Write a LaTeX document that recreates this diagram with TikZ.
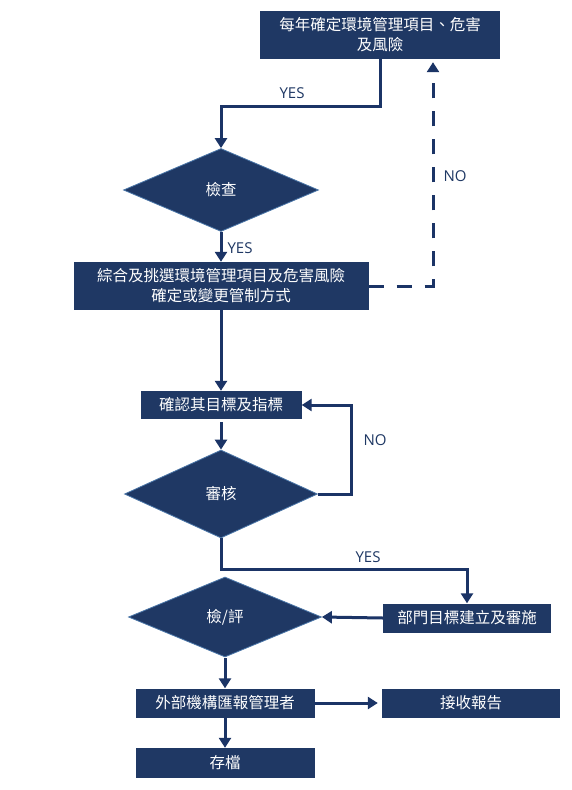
\documentclass[tikz,border=0pt]{standalone}
\usepackage{fontspec}
\setmainfont{Noto Sans CJK TC}
\newfontfamily\lblfont{Open Sans}
\usetikzlibrary{shapes.geometric,arrows.meta}
\definecolor{navy}{HTML}{1F3864}
\definecolor{edgeblue}{HTML}{4A76A8}
\definecolor{linec}{HTML}{1B3466}

\begin{document}
\begin{tikzpicture}[x=1pt,y=-1pt,
    box/.style={fill=navy,text=white,inner sep=0pt,align=center,font=\fontsize{15.5}{20}\selectfont},
    ask/.style={diamond,fill=navy,draw=edgeblue,line width=0.8pt,text=white,inner sep=0pt,font=\fontsize{15.5}{20}\selectfont},
    conn/.style={linec,line width=3pt,-{Triangle[width=12pt,length=10pt]}},
    lbl/.style={text=navy,font=\lblfont\fontsize{15}{18}\selectfont}]
    \fill[white] (0,0) rectangle (571,790);
    \useasboundingbox (0,0) rectangle (571,790);

    \node[box,minimum width=240pt,minimum height=48pt] (yearly) at (380,35) {每年確定環境管理項目、危害\\及風險};
    \node[ask,minimum width=195pt,minimum height=83pt] (check) at (221,190) {檢查};
    \node[box,minimum width=295pt,minimum height=48pt] (select) at (221,286) {綜合及挑選環境管理項目及危害風險\\確定或變更管制方式};
    \node[box,minimum width=161pt,minimum height=28pt] (target) at (221,405) {確認其目標及指標};
    \node[ask,minimum width=193pt,minimum height=88pt] (audit) at (221,494) {審核};
    \node[box,minimum width=168pt,minimum height=29pt] (dept) at (467,618) {部門目標建立及審施};
    \node[ask,minimum width=193pt,minimum height=80pt] (review) at (225,617) {檢/評};
    \node[box,minimum width=179pt,minimum height=29pt] (report) at (225,703) {外部機構匯報管理者};
    \node[box,minimum width=178pt,minimum height=29pt] (receive) at (471,703) {接收報告};
    \node[box,minimum width=179pt,minimum height=30pt] (archive) at (225,763) {存檔};

    \node[lbl] (yes1) at (292,93) {YES};
    \node[lbl,anchor=west] (yes2) at (224,248) {YES};
    \node[lbl] (no1) at (455,176) {NO};
    \node[lbl] (no2) at (375,440) {NO};
    \node[lbl] (yes3) at (368,557) {YES};

    \draw[conn] (yearly.south) -- ++(0,47) -| (check.north);
    \draw[conn] (check.south) -- (select.north);
    \draw[conn,dash pattern=on 15pt off 13pt,shorten >=3pt] (select.east) -| ([xshift=53pt]yearly.south);
    \draw[conn] (select.south) -- (target.north);
    \draw[conn,shorten <=3pt] (target.south) -- (audit.north);
    \draw[conn] (audit.east) -- ++(34,0) |- (target.east);
    \draw[conn] (audit.south) -- ++(0,31) -| (dept.north);
    \draw[conn] (dept.west) -- (review.east);
    \draw[conn,shorten <=1pt] (review.south) -- (report.north);
    \draw[conn,shorten >=4pt] (report.east) -- (receive.west);
    \draw[conn] (report.south) -- (archive.north);
\end{tikzpicture}
\end{document}
